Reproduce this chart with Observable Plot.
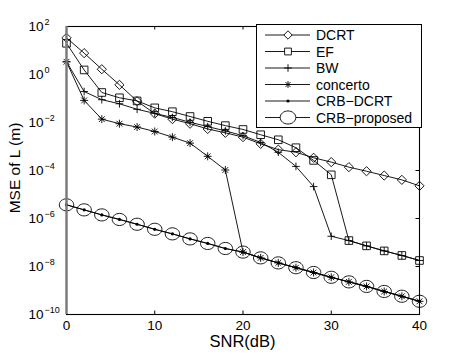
<!DOCTYPE html>
<html><head><meta charset="utf-8">
<script src="https://cdn.jsdelivr.net/npm/d3@7"></script>
<script src="https://cdn.jsdelivr.net/npm/@observablehq/plot@0.6"></script>
<style>
body{margin:0;background:#fff;}
#chart svg{display:block;font-family:"Liberation Sans",Arial,Helvetica,sans-serif;}
</style></head><body><div id="chart"></div>
<script>
// SNR (dB)
const snr = [0,2,4,6,8,10,12,14,16,18,20,22,24,26,28,30,32,34,36,38,40];
// MSE values given as log10 exponents
const dcrtExp = [1.53,0.89,0.22,-0.43,-1.11,-1.63,-1.86,-2.05,-2.27,-2.43,-2.61,-2.89,-3.13,-3.24,-3.47,-3.65,-3.86,-4.03,-4.21,-4.39,-4.64];
const efExp = [1.30,0.19,-0.75,-0.97,-1.10,-1.39,-1.55,-1.75,-1.95,-2.13,-2.29,-2.51,-2.72,-3.05,-3.58,-4.18,-6.92,-7.14,-7.35,-7.54,-7.75];
const bwExp = [0.53,-0.71,-1.05,-1.22,-1.45,-1.62,-1.79,-1.99,-2.17,-2.35,-2.55,-2.83,-3.24,-3.83,-4.67,-6.74,-6.92,-7.14,-7.35,-7.54,-7.75];
const concertoExp = [0.53,-1.08,-1.86,-2.05,-2.19,-2.375,-2.61,-2.86,-3.41,-3.98,-7.40,-7.64,-7.85,-8.05,-8.25,-8.45,-8.64,-8.83,-9.04,-9.24,-9.45];
const crbDcrtExp = [-5.43,-5.64,-5.85,-6.04,-6.24,-6.45,-6.64,-6.85,-7.04,-7.25,-7.40,-7.64,-7.85,-8.05,-8.25,-8.45,-8.64,-8.83,-9.04,-9.24,-9.45];
const crbPropExp = [-5.43,-5.64,-5.85,-6.04,-6.24,-6.45,-6.64,-6.85,-7.04,-7.25,-7.40,-7.64,-7.85,-8.05,-8.25,-8.45,-8.64,-8.83,-9.04,-9.24,-9.45];
const seriesNames = ["DCRT","EF","BW","concerto","CRB\u2212DCRT","CRB\u2212proposed"];
const xTicks = [0,10,20,30,40];
const yTickExps = [2,0,-2,-4,-6,-8,-10];
const xLabel = "SNR(dB)";
const yLabel = "MSE of L (m)";

const R = s => Math.sqrt(s / Math.PI);
const symDiamond = {draw(c,s){const r=R(s);c.moveTo(0,-r);c.lineTo(r,0);c.lineTo(0,r);c.lineTo(-r,0);c.closePath();}};
const symSquare = {draw(c,s){const r=R(s);c.moveTo(-r,-r);c.lineTo(r,-r);c.lineTo(r,r);c.lineTo(-r,r);c.closePath();}};
const symPlus = {draw(c,s){const r=R(s);c.moveTo(-r,0);c.lineTo(r,0);c.moveTo(0,-r);c.lineTo(0,r);}};
const symStar = {draw(c,s){const r=R(s),d=r*0.72;c.moveTo(-r,0);c.lineTo(r,0);c.moveTo(0,-r);c.lineTo(0,r);c.moveTo(-d,-d);c.lineTo(d,d);c.moveTo(-d,d);c.lineTo(d,-d);}};
const symEllipse = {draw(c,s){const rx=R(s),ry=rx*0.84,k=0.5523;
  c.moveTo(rx,0);c.bezierCurveTo(rx,ry*k,rx*k,ry,0,ry);c.bezierCurveTo(-rx*k,ry,-rx,ry*k,-rx,0);
  c.bezierCurveTo(-rx,-ry*k,-rx*k,-ry,0,-ry);c.bezierCurveTo(rx*k,-ry,rx,-ry*k,rx,0);c.closePath();}};

const exps = [dcrtExp, efExp, bwExp, concertoExp, crbDcrtExp, crbPropExp];
const syms = [symDiamond, symSquare, symPlus, symStar, null, symEllipse];
const sizes = [4.6, 3.8, 3.8, 4.0, 1.6, 7.2];
const tables = exps.map(e => snr.map((s,i) => ({snr: s, v: Math.pow(10, e[i])})));

const marks = [];
marks.push(Plot.ruleX(xTicks, {x: d => d, insetTop: 284.5, stroke: "black"}));
marks.push(Plot.ruleX(xTicks, {x: d => d, insetBottom: 284.5, stroke: "black"}));
marks.push(Plot.ruleY(yTickExps.map(e => Math.pow(10,e)), {y: d => d, insetLeft: 349.5, stroke: "black"}));
tables.forEach((t, k) => {
  marks.push(Plot.line(t, {x: "snr", y: "v", stroke: "black", strokeWidth: 0.9}));
  if (syms[k]) marks.push(Plot.dot(t, {x: "snr", y: "v", symbol: syms[k], r: sizes[k], stroke: "black", fill: "none", strokeWidth: 0.9}));
  else marks.push(Plot.dot(t, {x: "snr", y: "v", r: sizes[k], fill: "black", stroke: "none"}));
});
marks.push(Plot.frame({stroke: "black", strokeWidth: 1.1}));
marks.push(Plot.ruleX([xTicks[0]], {stroke: "#7a7a7a", strokeWidth: 2.4}));
marks.push(Plot.axisX({ticks: xTicks, tickSize: 0, tickPadding: 6, label: null, tickFormat: d => String(d)}));
marks.push(Plot.axisY({ticks: yTickExps.map(e => Math.pow(10,e)), tickSize: 0, tickPadding: 38, textAnchor: "start", label: null,
  tickFormat: d => "10^" + Math.round(Math.log10(d))}));

const chart = Plot.plot({
  width: 463, height: 354,
  marginLeft: 66, marginRight: 44, marginTop: 26, marginBottom: 40,
  style: {fontSize: "13.5px", fontFamily: "'Liberation Sans', Arial, Helvetica, sans-serif", color: "black", background: "white"},
  x: {domain: [0, 40]},
  y: {type: "log", domain: [1e-10, 1e2]},
  marks
});
document.getElementById("chart").appendChild(chart);

const svg = d3.select(chart);
// superscripts on y tick labels
svg.selectAll('g[aria-label="y-axis tick label"] text').each(function(){
  const t = d3.select(this);
  const parts = t.text().split("^");
  if (parts.length < 2) return;
  const e = parts[1].replace("-", "\u2212");
  t.text(parts[0]);
  t.append("tspan").attr("dx", 1).attr("dy", -5.5).attr("font-size", 9).text(e);
});
// axis titles
svg.append("text").attr("x", 242.5).attr("y", 347).attr("text-anchor", "middle")
  .attr("font-size", 16.5).attr("fill", "black").text(xLabel);
svg.append("text").attr("transform", "translate(20,168) rotate(-90)").attr("text-anchor", "middle")
  .attr("font-size", 15.5).attr("fill", "black").text(yLabel);
// legend
const lg = svg.append("g");
lg.append("rect").attr("x", 256.5).attr("y", 24.5).attr("width", 165).attr("height", 103)
  .attr("fill", "white").attr("stroke", "black").attr("stroke-width", 1);
const legSizes = [4.2, 3.4, 3.8, 3.4, 1.6, 7.8];
seriesNames.forEach((name, k) => {
  const y = 35 + k * 16.5;
  lg.append("line").attr("x1", 265).attr("x2", 310).attr("y1", y).attr("y2", y)
    .attr("stroke", "black").attr("stroke-width", 0.9);
  if (syms[k]) {
    const r = legSizes[k];
    lg.append("path").attr("transform", `translate(288,${y})`)
      .attr("d", d3.symbol(syms[k], Math.PI * r * r)())
      .attr("fill", "white").attr("stroke", "black").attr("stroke-width", 0.9);
  } else {
    lg.append("circle").attr("cx", 288).attr("cy", y).attr("r", legSizes[k]).attr("fill", "black");
  }
  lg.append("text").attr("x", 316).attr("y", y).attr("dy", "0.36em").attr("font-size", 14)
    .attr("text-anchor", "start").attr("fill", "black").text(name);
});
</script></body></html>
